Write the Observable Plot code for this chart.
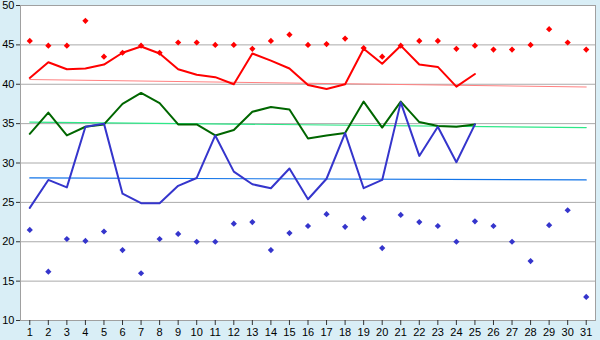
<!DOCTYPE html>
<html><head><meta charset="utf-8">
<script src="https://cdn.jsdelivr.net/npm/d3@7"></script>
<script src="https://cdn.jsdelivr.net/npm/@observablehq/plot@0.6"></script>
<style>
html,body{margin:0;padding:0;background:#d9eef6;}
#chart svg{display:block;}
</style>
</head><body><div id="chart"></div>
<script>
const days = [1,2,3,4,5,6,7,8,9,10,11,12,13,14,15,16,17,18,19,20,21,22,23,24,25,26,27,28,29,30,31];
const lineDays = [1,2,3,4,5,6,7,8,9,10,11,12,13,14,15,16,17,18,19,20,21,22,23,24,25];
const redLine = [40.8,42.8,41.9,42.0,42.5,44.0,44.8,43.9,41.9,41.2,40.9,40.0,43.9,43.0,42.0,39.9,39.4,40.0,44.5,42.6,44.9,42.5,42.2,39.7,41.3];
const greenLine = [33.7,36.4,33.5,34.6,34.9,37.5,38.9,37.6,34.9,34.9,33.5,34.2,36.5,37.1,36.8,33.1,33.5,33.8,37.8,34.5,37.8,35.2,34.7,34.6,34.9];
const blueLine = [24.3,27.85,26.9,34.6,35.0,26.1,24.9,24.9,27.1,28.1,33.5,28.9,27.3,26.8,29.3,25.4,28.0,33.8,26.8,27.85,37.7,30.9,34.6,30.1,34.9];
const redPoints = [45.5,44.9,44.9,48.05,43.5,44.0,44.9,44.0,45.3,45.3,45.0,45.0,44.5,45.5,46.3,45.0,45.1,45.8,44.6,43.5,44.9,45.5,45.5,44.5,44.9,44.4,44.4,45.0,47.0,45.3,44.4];
const bluePoints = [21.5,16.2,20.35,20.1,21.3,18.95,16.0,20.35,21.0,20.0,20.0,22.3,22.5,18.95,21.1,22.0,23.5,21.9,23.0,19.2,23.4,22.5,22.0,20.0,22.6,22.0,20.0,17.55,22.1,24.0,13.0];
const trendDays = [1,31];
const redTrend = [40.6,39.65];
const greenTrend = [35.2,34.5];
const blueTrend = [28.1,27.85];
const yTicks = [10,15,20,25,30,35,40,45,50];

const mk = (xs, ys) => xs.map((d,i) => ({day:d, v:ys[i]}));

const chart = Plot.plot({
  width: 600, height: 340,
  marginLeft: 20, marginRight: 5, marginTop: 5, marginBottom: 20,
  style: {background: "#d9eef6", fontFamily: "Liberation Sans, Arial, sans-serif", fontSize: "11px", color: "#000", overflow: "visible"},
  x: {domain: [0.5, 31.5], axis: null},
  y: {domain: [10, 50], axis: null},
  marks: [
    Plot.frame({fill: "white", stroke: null}),
    Plot.ruleY(yTicks, {stroke: "#aaaaaa", strokeWidth: 1}),
    Plot.line(mk(trendDays, redTrend), {x: "day", y: "v", stroke: "#ff8080", strokeWidth: 1}),
    Plot.line(mk(trendDays, greenTrend), {x: "day", y: "v", stroke: "#2ee888", strokeWidth: 1.2}),
    Plot.line(mk(trendDays, blueTrend), {x: "day", y: "v", stroke: "#1274e8", strokeWidth: 1.2}),
    Plot.line(mk(lineDays, redLine), {x: "day", y: "v", stroke: "#ff0000", strokeWidth: 2}),
    Plot.line(mk(lineDays, greenLine), {x: "day", y: "v", stroke: "#006600", strokeWidth: 2}),
    Plot.line(mk(lineDays, blueLine), {x: "day", y: "v", stroke: "#3535cc", strokeWidth: 2}),
    Plot.dot(mk(days, redPoints), {x: "day", y: "v", fill: "#ff0000", symbol: "diamond2", r: 2.8, stroke: null}),
    Plot.dot(mk(days, bluePoints), {x: "day", y: "v", fill: "#3535cc", symbol: "diamond2", r: 2.8, stroke: null}),
    Plot.frame({stroke: "#a0a0a0", fill: null}),
    Plot.axisY({ticks: yTicks, tickSize: 4, tickPadding: 2, stroke: "#333", tickFormat: d => d, label: null}),
    Plot.axisX({ticks: days, tickSize: 5, tickPadding: 3, stroke: "#333", tickFormat: d => d, label: null})
  ]
});
document.getElementById("chart").appendChild(chart);
</script>
</body></html>
